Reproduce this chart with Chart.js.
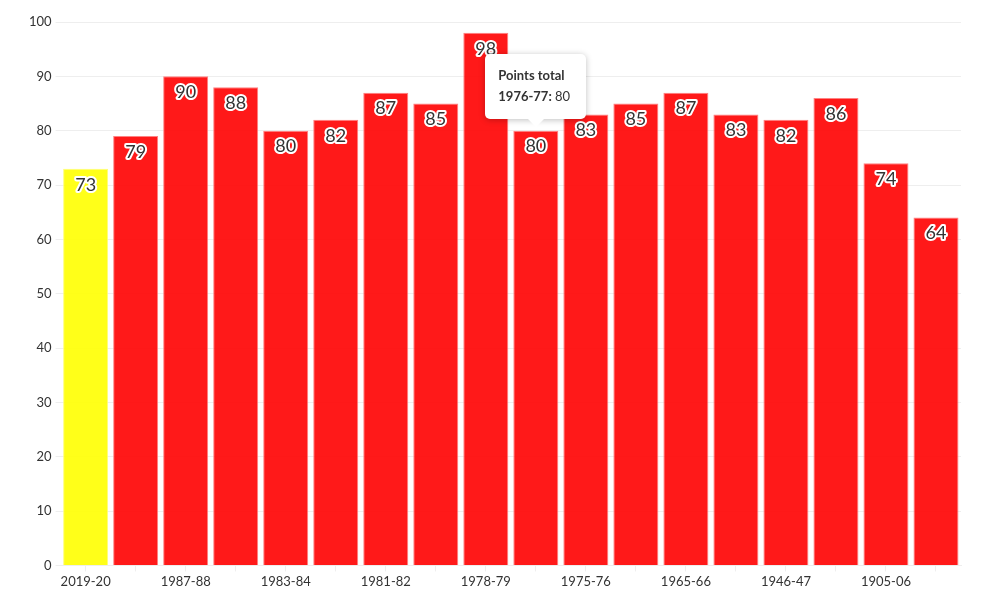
<!DOCTYPE html>
<html>
<head>
<meta charset="utf-8">
<script src="https://cdn.jsdelivr.net/npm/chart.js@4"></script>
<style>
  html, body { margin: 0; padding: 0; background: #fff; }
  #wrap { position: relative; width: 985px; height: 615px; }
  #tip {
    position: absolute; pointer-events: none; background: #fff; border-radius: 5px;
    box-shadow: 0 1px 6px rgba(0,0,0,0.25); padding: 11px 13px 12px 13px;
    font-family: Lato, sans-serif; font-size: 13px; color: #333; line-height: 21px;
    white-space: nowrap; opacity: 0; min-width: 75px;
  }
  #tip:after {
    content: ""; position: absolute; left: 50%; bottom: -8px; margin-left: -8px;
    border-left: 8px solid transparent; border-right: 8px solid transparent;
    border-top: 8px solid #fff;
  }
  #tip b { font-weight: bold; }
</style>
</head>
<body>
<div id="wrap">
  <canvas id="stage"></canvas>
  <div id="tip"></div>
</div>
<script>
// データ
const seasons = ["2019-20","1989-90","1987-88","1985-86","1983-84","1982-83","1981-82","1979-80","1978-79",
                 "1976-77","1975-76","1972-73","1965-66","1963-64","1946-47","1922-23","1905-06","1900-01"];
const points = [73, 79, 90, 88, 80, 82, 87, 85, 98, 80, 83, 85, 87, 83, 82, 86, 74, 64];
const yTicks = [0, 10, 20, 30, 40, 50, 60, 70, 80, 90, 100];
const seriesName = 'Points total';
const activeIndex = 9;

Chart.defaults.font.family = 'Lato, sans-serif';
Chart.defaults.color = '#333';

// 棒の上に値を描くプラグイン
const valueLabels = {
    id: 'valueLabels',
    afterDatasetsDraw(chart) {
        const ctx = chart.ctx;
        const meta = chart.getDatasetMeta(0);
        ctx.save();
        ctx.font = '18px Lato, sans-serif';
        ctx.textAlign = 'center';
        ctx.textBaseline = 'middle';
        ctx.lineJoin = 'round';
        meta.data.forEach((bar, i) => {
            const txt = String(points[i]);
            const y = bar.y + 16;
            ctx.lineWidth = 4;
            ctx.strokeStyle = '#fff';
            ctx.strokeText(txt, bar.x, y);
            ctx.fillStyle = '#333';
            ctx.fillText(txt, bar.x, y);
        });
        ctx.restore();
    }
};

function externalTip(context) {
    const tip = document.getElementById('tip');
    const model = context.tooltip;
    if (model.opacity === 0) { tip.style.opacity = 0; return; }
    const i = model.dataPoints[0].dataIndex;
    tip.innerHTML = '<b>' + seriesName + '</b><br><b>' + seasons[i] + ':</b> ' + points[i];
    tip.style.opacity = 1;
    const w = tip.offsetWidth, h = tip.offsetHeight;
    tip.style.left = (model.caretX - w / 2) + 'px';
    tip.style.top = (model.caretY - h - 12) + 'px';
}

const fill = points.map((v, i) => i === 0 ? 'rgba(255,255,0,0.9)' : 'rgba(255,0,0,0.9)');
const edge = points.map((v, i) => i === 0 ? 'rgba(255,255,120,1)' : 'rgba(255,130,130,1)');

const chart = new Chart(document.getElementById('stage'), {
    type: 'bar',
    data: {
        labels: seasons,
        datasets: [{
            label: seriesName,
            data: points,
            backgroundColor: fill,
            hoverBackgroundColor: fill,
            borderColor: edge,
            hoverBorderColor: edge,
            borderWidth: 1,
            barPercentage: 0.9,
            categoryPercentage: 1.0,
        }]
    },
    options: {
        responsive: true,
        maintainAspectRatio: false,
        animation: false,
        layout: { padding: { left: 25, right: 24, top: 22, bottom: 22 } },
        plugins: {
            legend: { display: false },
            tooltip: { enabled: false, external: externalTip }
        },
        scales: {
            x: {
                grid: { offset: false, drawOnChartArea: false, drawTicks: true, tickLength: 6, color: '#eee' },
                border: { color: '#eee' },
                ticks: {
                    autoSkip: false, maxRotation: 0, font: { size: 13 },
                    callback: function(value, index) { return index % 2 === 0 ? seasons[index] : ''; }
                }
            },
            y: {
                min: 0, max: 100,
                afterBuildTicks: axis => { axis.ticks = yTicks.map(v => ({ value: v })); },
                grid: { color: '#eee', tickLength: 5 },
                border: { display: false },
                ticks: { font: { size: 13 }, padding: 4 }
            }
        }
    },
    plugins: [valueLabels]
});

const active = [{ datasetIndex: 0, index: activeIndex }];
const bar = chart.getDatasetMeta(0).data[activeIndex];
chart.setActiveElements(active);
chart.tooltip.setActiveElements(active, { x: bar.x, y: bar.y });
chart.update();
</script>
</body>
</html>
